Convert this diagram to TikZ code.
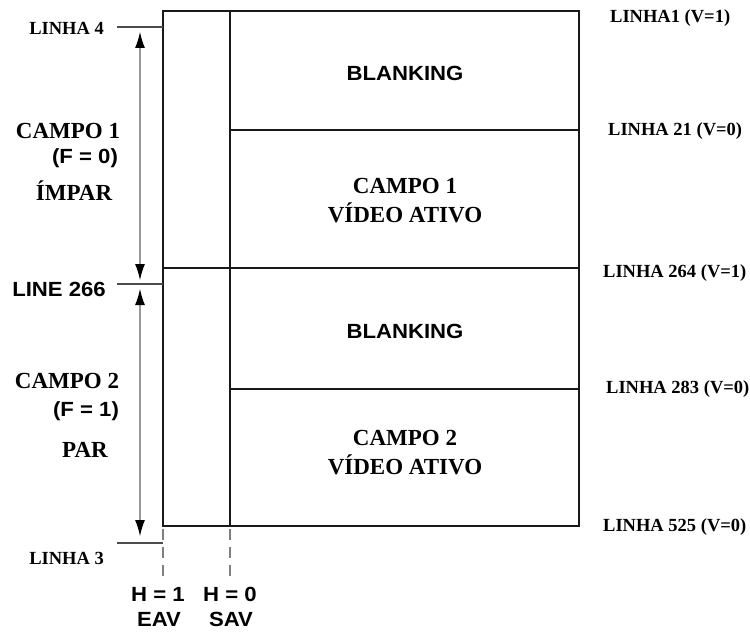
\documentclass[tikz,border=0pt]{standalone}
\usepackage{fontspec}
\setmainfont{Liberation Serif}
\newfontfamily\lsans[FakeStretch=1.08]{Liberation Sans}
\usetikzlibrary{arrows.meta}
\tikzset{
  frame/.style={line width=2.8pt, black!90},
  tick/.style={line width=1.6pt, black!70},
  span/.style={line width=2.4pt, black!40, {Latex[black,length=17pt,width=10pt]}-{Latex[black,length=17pt,width=10pt]}},
  guide/.style={line width=2pt, black!50, dash pattern=on 11pt off 7pt},
  serif/.style={font=\fontsize{18.5}{20}\selectfont\bfseries, inner sep=0pt},
  bigserif/.style={font=\fontsize{23}{29}\selectfont\bfseries, inner sep=0pt, align=center},
  sans/.style={font=\lsans\fontsize{20.5}{24}\selectfont\bfseries, inner sep=0pt, align=center},
}
\begin{document}
\begin{tikzpicture}[x=1pt,y=-1pt]
\useasboundingbox (0,0) rectangle (750,634);
% corners
\coordinate (TL) at (163,11);
\coordinate (TR) at (579,11);
\coordinate (BL) at (163,526);
\coordinate (BR) at (579,526);
\coordinate (ST) at (230,11);
\coordinate (SB) at (230,526);
\coordinate (A1) at (230,130);
\coordinate (A2) at (579,130);
\coordinate (M1) at (163,268);
\coordinate (M2) at (579,268);
\coordinate (B1) at (230,389);
\coordinate (B2) at (579,389);
\draw[frame] (TL) rectangle (BR);
\draw[frame] (ST) -- (SB);
\draw[frame] (A1) -- (A2);
\draw[frame] (M1) -- (M2);
\draw[frame] (B1) -- (B2);
% ticks
\coordinate (t4a) at (117,27);
\coordinate (t4b) at (163,27);
\coordinate (t266a) at (117,284);
\coordinate (t266b) at (163,284);
\coordinate (t3a) at (117,543);
\coordinate (t3b) at (163,543);
\draw[tick] (t4a) -- (t4b);
\draw[tick] (t266a) -- (t266b);
\draw[tick] (t3a) -- (t3b);
% arrows
\coordinate (ar1a) at (140,31);
\coordinate (ar1b) at (140,281);
\coordinate (ar2a) at (140,288);
\coordinate (ar2b) at (140,537);
\draw[span] (ar1a) -- (ar1b);
\draw[span] (ar2a) -- (ar2b);
% dashed guides
\coordinate (g1a) at (163,529);
\coordinate (g1b) at (163,580);
\coordinate (g2a) at (230,529);
\coordinate (g2b) at (230,580);
\draw[guide] (g1a) -- (g1b);
\draw[guide] (g2a) -- (g2b);
% left labels
\node[serif, anchor=east] (l4) at (104,28) {LINHA 4};
\node[sans, anchor=east] (l266) at (106,289) {LINE 266};
\node[serif, anchor=east] (l3) at (104,558) {LINHA 3};
\node[bigserif] (c1) at (68,131) {CAMPO 1};
\node[sans] (f0) at (85,158) {(F = 0)};
\node[bigserif] (imp) at (74,191) {ÍMPAR};
\node[bigserif] (c2) at (67,381) {CAMPO 2};
\node[sans] (f1) at (86,411) {(F = 1)};
\node[bigserif] (par) at (85,450) {PAR};
% bottom labels
\node[sans] (h1) at (158,594) {H = 1};
\node[sans] (eav) at (159,619) {EAV};
\node[sans] (h0) at (230,594) {H = 0};
\node[sans] (sav) at (231,619) {SAV};
% box contents
\node[sans] (bk1) at (405,73) {BLANKING};
\node[bigserif] (cv1) at (405,201) {CAMPO 1\\VÍDEO ATIVO};
\node[sans] (bk2) at (405,331) {BLANKING};
\node[bigserif] (cv2) at (405,453) {CAMPO 2\\VÍDEO ATIVO};
% right labels
\node[serif, anchor=west] (r1) at (610,18) {LINHA1 (V=1)};
\node[serif, anchor=west] (r21) at (608,131) {LINHA 21 (V=0)};
\node[serif, anchor=west] (r264) at (603,273) {LINHA 264 (V=1)};
\node[serif, anchor=west] (r283) at (606,389) {LINHA 283 (V=0)};
\node[serif, anchor=west] (r525) at (603,527) {LINHA 525 (V=0)};
\end{tikzpicture}
\end{document}
